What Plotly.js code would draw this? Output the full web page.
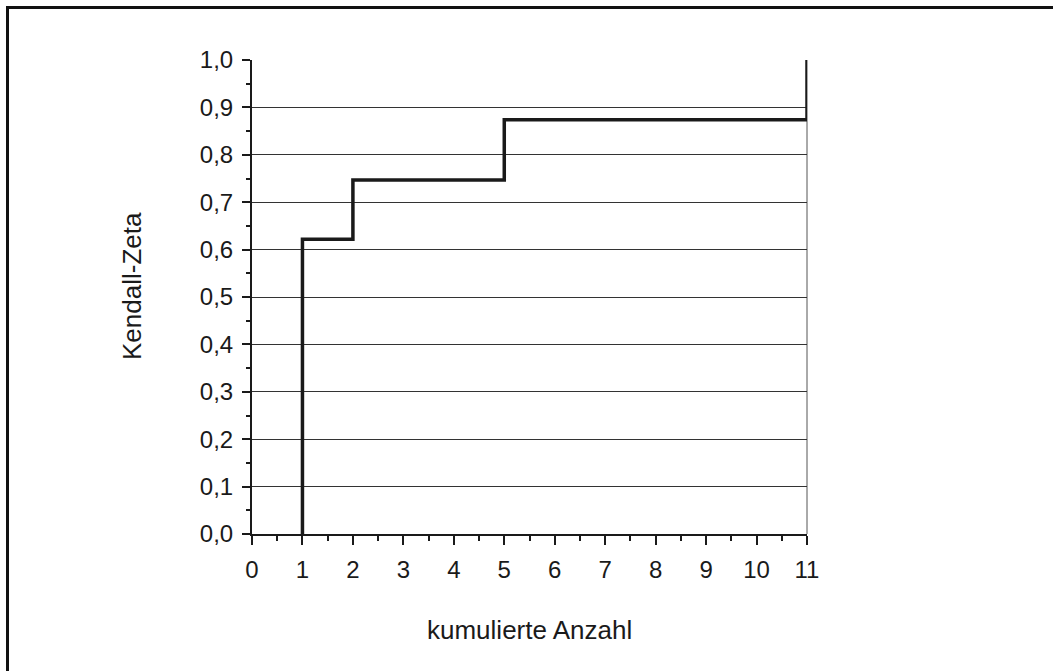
<!DOCTYPE html>
<html>
<head>
<meta charset="utf-8">
<script src="https://cdn.plot.ly/plotly-3.0.1.min.js"></script>
<style>
  html, body { margin: 0; padding: 0; background: #fff; }
  #wrap { position: relative; width: 1053px; height: 671px; overflow: hidden; }
  #chart { position: absolute; left: 0; top: 0; width: 1053px; height: 671px; }
  #frame { position: absolute; left: 6px; top: 6px; width: 1100px; height: 700px;
           border-top: 3px solid #111; border-left: 3px solid #111; pointer-events: none; }
</style>
</head>
<body>
<div id="wrap">
  <div id="chart"></div>
  <div id="frame"></div>
</div>
<script>
// Step curve: Kendall-Zeta vs. kumulierte Anzahl
const stepX = [1, 1, 2, 5, 11];
const stepY = [0, 0.622, 0.747, 0.874, 1.0];
const xTicks = [0, 1, 2, 3, 4, 5, 6, 7, 8, 9, 10, 11];
const yTicks = [0, 0.1, 0.2, 0.3, 0.4, 0.5, 0.6, 0.7, 0.8, 0.9, 1.0];
const xTitle = "kumulierte Anzahl";
const yTitle = "Kendall-Zeta";

const tickFont = { family: "Liberation Sans, Arial, sans-serif", size: 24, color: "#1a1a1a" };
const titleFont = { family: "Liberation Sans, Arial, sans-serif", size: 26, color: "#1a1a1a" };

const trace = {
  x: stepX, y: stepY, type: "scatter", mode: "lines",
  line: { shape: "hv", color: "#1a1a1a", width: 3.5 },
  cliponaxis: false, hoverinfo: "skip"
};

const layout = {
  width: 1053, height: 671,
  margin: { l: 252, r: 246, t: 60, b: 137 },
  paper_bgcolor: "#fff", plot_bgcolor: "#fff",
  separators: ",.",
  font: tickFont,
  showlegend: false,
  xaxis: {
    range: [0, 11], tickvals: xTicks, ticktext: xTicks.map(String),
    showgrid: false, zeroline: false,
    showline: true, linecolor: "#1a1a1a", linewidth: 2,
    ticks: "outside", ticklen: 9, tickwidth: 2, tickcolor: "#1a1a1a",
    ticklabelstandoff: 4,
    minor: { dtick: 0.5, tick0: 0, ticks: "outside", ticklen: 5, tickwidth: 2, tickcolor: "#1a1a1a", showgrid: false },
    tickfont: tickFont
  },
  yaxis: {
    range: [0, 1.0], tickvals: yTicks, tickformat: ".1f",
    showgrid: true, gridcolor: "#333", gridwidth: 1, zeroline: false,
    showline: true, linecolor: "#1a1a1a", linewidth: 2,
    ticks: "outside", ticklen: 8, tickwidth: 2, tickcolor: "#1a1a1a",
    ticklabelstandoff: 4,
    minor: { dtick: 0.05, tick0: 0, ticks: "outside", ticklen: 4, tickwidth: 2, tickcolor: "#1a1a1a", showgrid: false },
    tickfont: tickFont
  },
  annotations: [
    { text: xTitle, xref: "paper", yref: "paper", x: 0.5, y: -0.2, yshift: 0,
      xanchor: "center", yanchor: "middle", showarrow: false, font: titleFont },
    { text: yTitle, xref: "paper", yref: "paper", x: 0, y: 0.5, xshift: -120, yshift: 11,
      xanchor: "center", yanchor: "middle", textangle: -90, showarrow: false, font: titleFont }
  ],
  shapes: [
    { type: "line", xref: "paper", yref: "paper", x0: 1, x1: 1, y0: 0, y1: 1,
      line: { color: "#555", width: 1 }, layer: "below" }
  ]
};

// position x title at pixel y≈630: plot bottom 534, height 474 -> (534-630)/474
layout.annotations[0].y = (534 - 630) / 474;

Plotly.newPlot("chart", [trace], layout, { staticPlot: true, displayModeBar: false });
</script>
</body>
</html>
